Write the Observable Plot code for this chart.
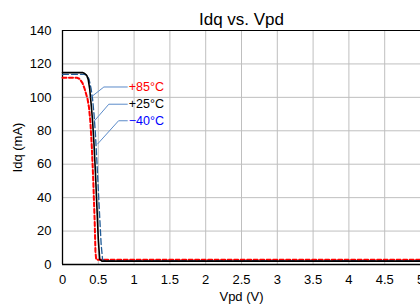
<!DOCTYPE html>
<html><head><meta charset="utf-8">
<script src="https://cdn.jsdelivr.net/npm/d3@7"></script>
<script src="https://cdn.jsdelivr.net/npm/@observablehq/plot@0.6"></script>
<style>body{margin:0;background:#fff;font-family:"Liberation Sans",Arial,sans-serif}</style>
</head><body><div id="chart"></div>
<script>
const title = "Idq vs. Vpd";
const xLabel = "Vpd (V)";
const yLabel = "Idq (mA)";
const xTicks = [0, 0.5, 1, 1.5, 2, 2.5, 3, 3.5, 4, 4.5, 5];
const yTicks = [0, 20, 40, 60, 80, 100, 120, 140];

const v25 = [0, 0.1, 0.2, 0.28, 0.31, 0.34, 0.36, 0.38, 0.40, 0.42, 0.44, 0.46, 0.48, 0.50, 0.52, 0.55, 1, 2, 3, 4, 5];
const i25 = [114.8, 114.8, 114.8, 114.8, 114.3, 113, 110.5, 105, 96, 86, 72, 55, 35, 15, 3, 2, 2, 2, 2, 2, 2];

const vm40 = [0, 0.1, 0.2, 0.30, 0.34, 0.37, 0.40, 0.42, 0.44, 0.46, 0.48, 0.50, 0.52, 0.54, 0.56, 0.6, 1, 2, 3, 4, 5];
const im40 = [113.8, 113.8, 113.8, 113.8, 113.3, 111, 105, 99, 90, 78, 62, 45, 28, 12, 3, 2.2, 2.2, 2.2, 2.2, 2.2, 2.2];

const v85 = [0, 0.1, 0.2, 0.24, 0.28, 0.31, 0.33, 0.35, 0.37, 0.39, 0.41, 0.43, 0.45, 0.46, 0.47, 0.5, 1, 2, 3, 4, 5];
const i85 = [111.8, 111.8, 111.8, 111, 108.5, 105, 102, 99, 94, 85, 70, 50, 25, 8, 3, 2.8, 2.8, 2.8, 2.8, 2.8, 2.8];

const labels = ["+85°C", "+25°C", "−40°C"];
const labelColors = ["#ff0000", "#000000", "#0000ff"];
const labelX = [0.925, 0.925, 0.925];
const labelY = [106.4, 95.9, 86.0];
const leader85X = [0.40, 0.578, 0.905], leader85Y = [100.2, 106.2, 106.2];
const leader25X = [0.447, 0.647, 0.905], leader25Y = [86.0, 95.9, 95.9];
const leaderM40X = [0.49, 0.783, 0.905], leaderM40Y = [72.1, 86.0, 86.0];

const pts = (xs, ys) => xs.map((x, i) => ({x, y: ys[i]}));
const leaderColor = "#5b8bc9";

const plot = Plot.plot({
  width: 420, height: 304,
  marginTop: 30, marginRight: 0, marginBottom: 40, marginLeft: 62,
  style: {fontFamily: "'Liberation Sans', Arial, sans-serif", fontSize: "13px", background: "#fff"},
  x: {domain: [0, 5], ticks: xTicks},
  y: {domain: [0, 140], ticks: yTicks},
  marks: [
    Plot.gridX(xTicks, {stroke: "#bfbfbf", strokeOpacity: 1, strokeWidth: 1}),
    Plot.gridY(yTicks, {stroke: "#bfbfbf", strokeOpacity: 1, strokeWidth: 1}),
    Plot.axisX({ticks: xTicks, tickSize: 0, tickPadding: 10, tickFormat: d => String(d), fontSize: 13, fill: "#000",
      label: xLabel, labelAnchor: "center", labelArrow: "none", labelOffset: 36}),
    Plot.axisY({ticks: yTicks, tickSize: 0, tickPadding: 11, fontSize: 13, fill: "#000",
      label: yLabel, labelAnchor: "center", labelArrow: "none", labelOffset: 50}),
    Plot.ruleY([140], {stroke: "#000", strokeWidth: 1.2}),
    Plot.ruleX([0], {stroke: "#000", strokeWidth: 1.3}),
    Plot.ruleY([0], {stroke: "#000", strokeWidth: 1.3}),
    Plot.line(pts(v85, i85), {x: "x", y: "y", stroke: "#ff0000", strokeWidth: 2, strokeDasharray: "4,2.5"}),
    Plot.line(pts(vm40, im40), {x: "x", y: "y", stroke: "#1f5a96", strokeWidth: 1.3, strokeDasharray: "6,3"}),
    Plot.line(pts(v25, i25), {x: "x", y: "y", stroke: "#000", strokeWidth: 1.6}),
    Plot.line(pts(leader85X, leader85Y), {x: "x", y: "y", stroke: leaderColor, strokeWidth: 1}),
    Plot.line(pts(leader25X, leader25Y), {x: "x", y: "y", stroke: leaderColor, strokeWidth: 1}),
    Plot.line(pts(leaderM40X, leaderM40Y), {x: "x", y: "y", stroke: leaderColor, strokeWidth: 1}),
    Plot.text(labels, {x: (d, i) => labelX[i], y: (d, i) => labelY[i], text: d => d,
      fill: (d, i) => labelColors[i], textAnchor: "start", fontSize: 12.5}),
    Plot.text([title], {frameAnchor: "top", lineAnchor: "middle", dy: -11, fontSize: 17, fill: "#000"})
  ]
});
document.getElementById("chart").append(plot);
</script></body></html>
